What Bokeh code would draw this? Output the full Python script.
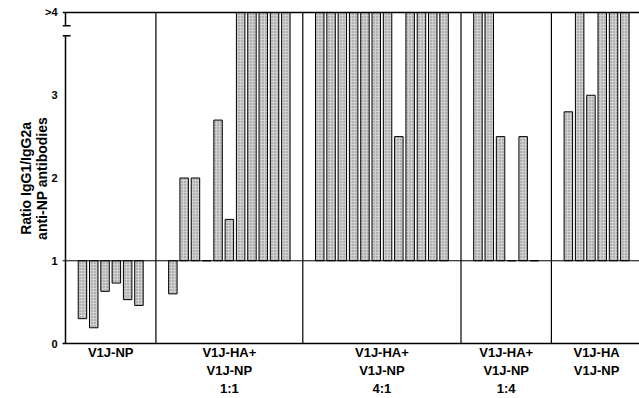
from bokeh.plotting import figure
from bokeh.models import Range1d, FixedTicker, Span
from bokeh.embed import file_html
from bokeh.resources import INLINE

# ---- data ----
group_labels = ["V1J-NP",
                "V1J-HA+\nV1J-NP\n1:1",
                "V1J-HA+\nV1J-NP\n4:1",
                "V1J-HA+\nV1J-NP\n1:4",
                "V1J-HA\nV1J-NP"]
# IgG1/IgG2a ratio per animal; 4.0 stands for ">4" (off scale)
g_np = [0.30, 0.19, 0.63, 0.73, 0.53, 0.46]
g_11 = [0.60, 2.0, 2.0, 1.0, 2.7, 1.5, 4.0, 4.0, 4.0, 4.0, 4.0]
g_41 = [4.0, 4.0, 4.0, 4.0, 4.0, 4.0, 4.0, 2.5, 4.0, 4.0, 4.0, 4.0]
g_14 = [4.0, 4.0, 2.5, 1.0, 2.5, 1.0]
g_ha = [2.8, 4.0, 3.0, 4.0, 4.0, 4.0]
y_ticks = [0, 1, 2, 3, 4]
y_tick_labels = ["0", "1", "2", "3", ">4"]
baseline = 1.0
break_lo, break_hi = 3.72, 3.84

groups = [g_np, g_11, g_41, g_14, g_ha]

# ---- layout of bars in slot units ----
xs, tops, seps, centers = [], [], [], []
pos = 0.0
for g in groups:
    first = pos + 1.5
    for i, v in enumerate(g):
        xs.append(first + i)
        tops.append(v)
    centers.append(first + (len(g) - 1) / 2)
    pos = first + (len(g) - 1) + 1.5
    seps.append(pos)
seps = seps[:-1]

W, H = 639, 398
BL, BT = 62, 9
pitch = 11.3          # px per bar slot
unit = 83.0           # px per ratio unit
x0 = -3 / pitch
x1 = x0 + (W - BL) / pitch
y0 = 0.0
y1 = 4 + 3 / unit
BB = H - BT - int(round((y1 - y0) * unit))

p = figure(width=W, height=H, output_backend="svg", toolbar_location=None,
           x_range=Range1d(x0, x1), y_range=Range1d(y0, y1),
           min_border_left=BL, min_border_right=0, min_border_top=BT,
           min_border_bottom=BB)
p.outline_line_color = None
p.xgrid.visible = False
p.ygrid.visible = False
p.background_fill_color = "white"

# bars
p.vbar(x=xs, bottom=baseline, top=tops, width=0.75,
       fill_color="#d0d0d0", line_color="black", line_width=1,
       hatch_pattern="dot", hatch_color="#808080", hatch_scale=3, hatch_weight=1)

# frame lines
p.add_layout(Span(location=baseline, dimension="width", line_color="black", line_width=1.2))
p.segment(x0=[x0], y0=[4], x1=[x1], y1=[4], line_color="black", line_width=1.5)
p.segment(x0=seps, y0=[0] * len(seps), x1=seps, y1=[4] * len(seps),
          line_color="black", line_width=1.2)
# broken y axis
p.segment(x0=[0, 0], y0=[0, break_hi], x1=[0, 0], y1=[break_lo, 4],
          line_color="black", line_width=1.5)
p.segment(x0=[x0, x0], y0=[break_lo, break_hi], x1=[0.45, 0.45], y1=[break_lo, break_hi],
          line_color="black", line_width=1.5)

# y axis
ya = p.yaxis[0]
ya.ticker = FixedTicker(ticks=y_ticks)
ya.major_label_overrides = {t: l for t, l in zip(y_ticks, y_tick_labels)}
ya.axis_line_color = None
ya.major_tick_line_color = None
ya.minor_tick_line_color = None
ya.major_tick_out = 0
ya.major_tick_in = 0
ya.minor_tick_out = 0
ya.minor_tick_in = 0
ya.major_label_standoff = 5
ya.major_label_text_font = "Liberation Sans"
ya.major_label_text_font_style = "bold"
ya.major_label_text_font_size = "11px"
ya.major_label_text_color = "black"
ya.axis_label = "Ratio  IgG1/IgG2a\nanti-NP  antibodies"
ya.axis_label_text_font = "Liberation Sans"
ya.axis_label_text_font_style = "bold"
ya.axis_label_text_font_size = "14px"
ya.axis_label_text_color = "black"
ya.axis_label_standoff = -8
ya.axis_label_text_line_height = 1.0

# x axis (group labels)
xa = p.xaxis[0]
xa.ticker = FixedTicker(ticks=centers)
xa.major_label_overrides = {c: l for c, l in zip(centers, group_labels)}
xa.axis_line_color = "black"
xa.axis_line_width = 1.5
xa.major_tick_line_color = None
xa.minor_tick_line_color = None
xa.major_tick_out = 0
xa.major_tick_in = 0
xa.minor_tick_out = 0
xa.minor_tick_in = 0
xa.major_label_standoff = 1
xa.major_label_text_font = "Liberation Sans"
xa.major_label_text_font_style = "bold"
xa.major_label_text_font_size = "13px"
xa.major_label_text_color = "black"
xa.major_label_text_line_height = 1.2

open("out.html", "w").write(file_html(p, INLINE))
